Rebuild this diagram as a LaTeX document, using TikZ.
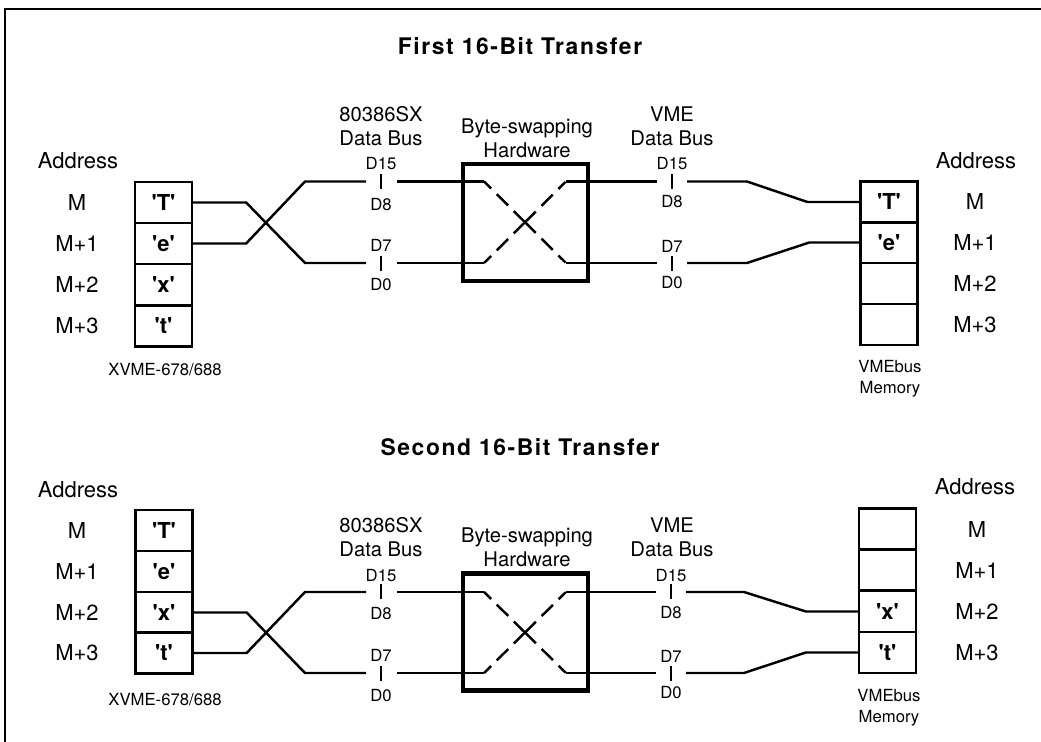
\documentclass[tikz,border=0pt]{standalone}
\usepackage{fontspec}
\setmainfont{TeX Gyre Heros}
\newfontfamily\titulofonte[LetterSpace=7]{TeX Gyre Heros}
\usetikzlibrary{calc}

\newcommand{\aspas}[1]{\textquotesingle#1\textquotesingle}

\tikzset{
  titulo/.style={font={\fontsize{13}{15}\selectfont\titulofonte\bfseries}},
  endereco/.style={font=\fontsize{12.5}{14}\selectfont, inner sep=0pt},
  celula/.style={draw, line width=1.3pt, minimum width=1.14cm, minimum height=0.82cm,
    inner sep=0pt, font=\fontsize{12.5}{14}\selectfont\bfseries},
  barramento/.style={font=\fontsize{11.5}{13.6}\selectfont, align=center},
  bit/.style={font=\fontsize{9.5}{11}\selectfont, inner sep=0pt},
  legenda/.style={font=\fontsize{9.5}{11.8}\selectfont, align=center},
  caixa/.style={draw, line width=2.3pt, minimum width=2.5cm, minimum height=2.34cm},
  fio/.style={line width=1.4pt},
  troca/.style={line width=1.4pt, dash pattern=on 0.2cm off 0.16cm on 0.32cm off 0.16cm
    on 0.62cm off 0.16cm on 0.32cm off 0.16cm on 0.2cm},
  marca/.style={line width=1pt},
}

\begin{document}
\begin{tikzpicture}[x=0.02cm, y=-0.02cm]
  \useasboundingbox (0,0) rectangle (1041,742);
  % Moldura
  \draw[line width=1.1pt] (5,742) -- (5,9) -- (1041,9);

  % Títulos
  \node[titulo] (tit1) at (520,46) {First 16-Bit Transfer};
  \node[titulo] (tit2) at (520,447) {Second 16-Bit Transfer};

  %%%% Primeira transferência %%%%
  % Memória local
  \node[endereco] (endA) at (78,161) {Address};
  \node[endereco] (mA0) at (77,202.5) {M};
  \node[endereco] (mA1) at (77,243.5) {M+1};
  \node[endereco] (mA2) at (77,284.5) {M+2};
  \node[endereco] (mA3) at (77,326) {M+3};
  \node[celula] (locA0) at (163.5,202.5) {\aspas{T}};
  \node[celula] (locA1) at (163.5,243.5) {\aspas{e}};
  \node[celula] (locA2) at (163.5,284.5) {\aspas{x}};
  \node[celula] (locA3) at (163.5,326) {\aspas{t}};
  \node[legenda] (xvA) at (165,370) {XVME-678/688};

  % Barramento do 80386SX
  \node[barramento] (cpuA) at (381,126) {80386SX\\Data Bus};
  \node[bit] (cA15) at (381,164) {D15};
  \node[bit] (cA8) at (381,205) {D8};
  \node[bit] (cA7) at (381,245) {D7};
  \node[bit] (cA0) at (381,285) {D0};
  \coordinate (cA15e) at (366,181.5);
  \coordinate (cA15d) at (397,181.5);
  \coordinate (cA7e) at (366,263);
  \coordinate (cA7d) at (397,263);
  \draw[marca] (381,174) -- (381,189);
  \draw[marca] (381,256) -- (381,271);

  % Hardware de troca
  \node[barramento] (hwA) at (527,138) {Byte-swapping\\Hardware};
  \node[caixa] (trocaA) at (525.5,222.5) {};
  \coordinate (tA1) at (484,181.5);
  \coordinate (tA2) at (566,181.5);
  \coordinate (tA3) at (484,263);
  \coordinate (tA4) at (566,263);

  % Barramento VME
  \node[barramento] (vmeA) at (672,126) {VME\\Data Bus};
  \node[bit] (vA15) at (672,164) {D15};
  \node[bit] (vA8) at (672,202) {D8};
  \node[bit] (vA7) at (672,246) {D7};
  \node[bit] (vA0) at (672,283) {D0};
  \coordinate (vA15e) at (657,181.5);
  \coordinate (vA15d) at (687,181.5);
  \coordinate (vA7e) at (657,263);
  \coordinate (vA7d) at (687,263);
  \draw[marca] (672,174) -- (672,189);
  \draw[marca] (672,256) -- (672,271);

  % Memória VME
  \node[endereco] (endA2) at (976,161) {Address};
  \node[endereco] (nA0) at (975,202) {M};
  \node[endereco] (nA1) at (975,242.5) {M+1};
  \node[endereco] (nA2) at (975,283.5) {M+2};
  \node[endereco] (nA3) at (975,324.5) {M+3};
  \node[celula] (memA0) at (889,202) {\aspas{T}};
  \node[celula] (memA1) at (889,242.5) {\aspas{e}};
  \node[celula] (memA2) at (889,283.5) {};
  \node[celula] (memA3) at (889,324.5) {};
  \node[legenda] (vmA) at (890,379) {VMEbus\\Memory};

  % Ligações
  \draw[fio] (locA0.east) -- ++(53,0) -- ($(cA7e)+(-61,0)$) -- (cA7e);
  \draw[fio] (locA1.east) -- ++(53,0) -- ($(cA15e)+(-61,0)$) -- (cA15e);
  \draw[fio] (cA15d) -- (tA1);
  \draw[fio] (cA7d) -- (tA3);
  \draw[troca] (tA1) -- (tA4);
  \draw[troca] (tA3) -- (tA2);
  \draw[fio] (tA2) -- (vA15e);
  \draw[fio] (tA4) -- (vA7e);
  \draw[fio] (vA15d) -- ++(60,0) -- ($(memA0.west)+(-52,0)$) -- (memA0.west);
  \draw[fio] (vA7d) -- ++(60,0) -- ($(memA1.west)+(-50,0)$) -- (memA1.west);

  %%%% Segunda transferência %%%%
  % Memória local
  \node[endereco] (endB) at (78,490) {Address};
  \node[endereco] (mB0) at (77,530.5) {M};
  \node[endereco] (mB1) at (77,571.5) {M+1};
  \node[endereco] (mB2) at (77,612.5) {M+2};
  \node[endereco] (mB3) at (77,653) {M+3};
  \node[celula] (locB0) at (164,530.5) {\aspas{T}};
  \node[celula] (locB1) at (164,571.5) {\aspas{e}};
  \node[celula] (locB2) at (164,612.5) {\aspas{x}};
  \node[celula] (locB3) at (164,653) {\aspas{t}};
  \node[legenda] (xvB) at (165,700) {XVME-678/688};

  % Barramento do 80386SX
  \node[barramento] (cpuB) at (381,537.5) {80386SX\\Data Bus};
  \node[bit] (cB15) at (381,576) {D15};
  \node[bit] (cB8) at (381,614) {D8};
  \node[bit] (cB7) at (381,655) {D7};
  \node[bit] (cB0) at (381,696) {D0};
  \coordinate (cB15e) at (366,592);
  \coordinate (cB15d) at (397,592);
  \coordinate (cB7e) at (366,673);
  \coordinate (cB7d) at (397,673);
  \draw[marca] (381,584.5) -- (381,599.5);
  \draw[marca] (381,665.5) -- (381,680.5);

  % Hardware de troca
  \node[barramento] (hwB) at (527,547.5) {Byte-swapping\\Hardware};
  \node[caixa] (trocaB) at (525.5,632) {};
  \coordinate (tB1) at (484,592);
  \coordinate (tB2) at (566,592);
  \coordinate (tB3) at (484,673);
  \coordinate (tB4) at (566,673);

  % Barramento VME
  \node[barramento] (vmeB) at (672,537.5) {VME\\Data Bus};
  \node[bit] (vB15) at (671,576) {D15};
  \node[bit] (vB8) at (671,613) {D8};
  \node[bit] (vB7) at (671,656) {D7};
  \node[bit] (vB0) at (671,693) {D0};
  \coordinate (vB15e) at (656,592);
  \coordinate (vB15d) at (686,592);
  \coordinate (vB7e) at (656,673);
  \coordinate (vB7d) at (686,673);
  \draw[marca] (671,584.5) -- (671,599.5);
  \draw[marca] (671,665.5) -- (671,680.5);

  % Memória VME
  \node[endereco] (endB2) at (975,487) {Address};
  \node[endereco] (nB0) at (977,529) {M};
  \node[endereco] (nB1) at (977,570) {M+1};
  \node[endereco] (nB2) at (977,611.5) {M+2};
  \node[endereco] (nB3) at (977,652.5) {M+3};
  \node[celula] (memB0) at (887.5,529) {};
  \node[celula] (memB1) at (887.5,570) {};
  \node[celula] (memB2) at (887.5,611.5) {\aspas{x}};
  \node[celula] (memB3) at (887.5,652.5) {\aspas{t}};
  \node[legenda] (vmB) at (889,708) {VMEbus\\Memory};

  % Ligações
  \draw[fio] (locB2.east) -- ++(53,0) -- ($(cB7e)+(-61,0)$) -- (cB7e);
  \draw[fio] (locB3.east) -- ++(53,0) -- ($(cB15e)+(-61,0)$) -- (cB15e);
  \draw[fio] (cB15d) -- (tB1);
  \draw[fio] (cB7d) -- (tB3);
  \draw[troca] (tB1) -- (tB4);
  \draw[troca] (tB3) -- (tB2);
  \draw[fio] (tB2) -- (vB15e);
  \draw[fio] (tB4) -- (vB7e);
  \draw[fio] (vB15d) -- ++(58,0) -- ($(memB2.west)+(-52,0)$) -- (memB2.west);
  \draw[fio] (vB7d) -- ++(58,0) -- ($(memB3.west)+(-52,0)$) -- (memB3.west);
\end{tikzpicture}
\end{document}
